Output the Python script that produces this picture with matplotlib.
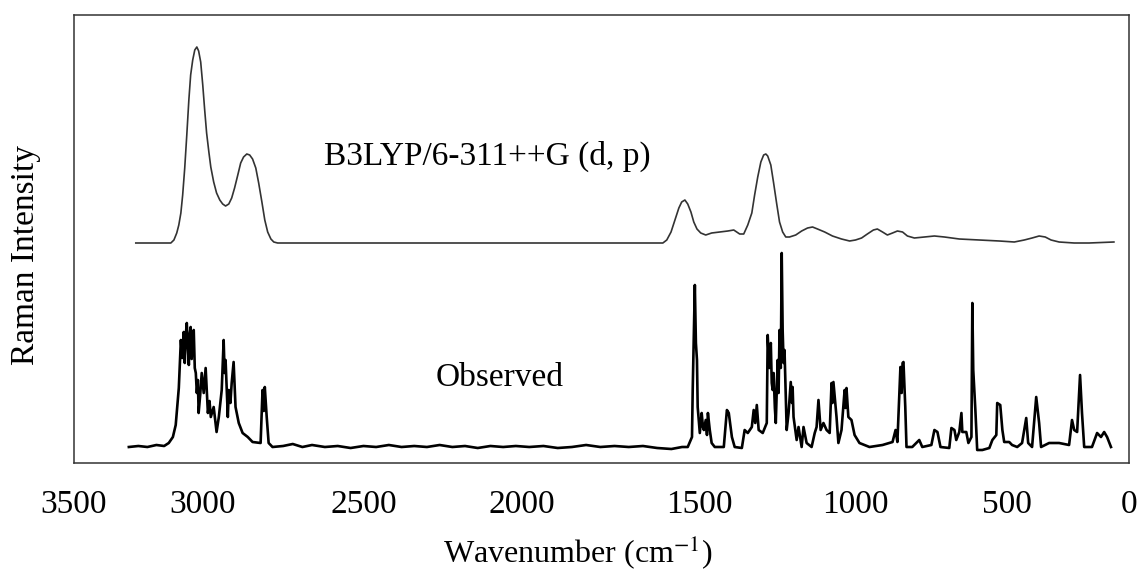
import numpy as np
import matplotlib
matplotlib.use("Agg")
import matplotlib.pyplot as plt

# tick label positions in the original figure are not evenly spaced,
# so the x axis uses a piecewise linear scale through these breaks
break_wn = np.array([0, 500, 1000, 1500, 2000, 2500, 3000, 3500])
break_pos = -np.array([1130, 1008, 856, 700, 522, 363, 202, 73], dtype=float)

# calculated spectrum (B3LYP/6-311++G(d,p))
calc_wn = [3260, 3124, 3112, 3101, 3093, 3085, 3078, 3070, 3062, 3054, 3047, 3039,
           3031, 3023, 3016, 3008, 3000, 2994, 2988, 2981, 2975, 2966, 2957, 2947,
           2938, 2929, 2919, 2910, 2901, 2891, 2882, 2873, 2863, 2854, 2845, 2835,
           2826, 2816, 2807, 2798, 2788, 2779, 2767,
           1604, 1593, 1581, 1570, 1559, 1551, 1542, 1534, 1525, 1517, 1508, 1497,
           1481, 1462, 1436, 1410, 1391, 1372, 1359, 1346, 1333, 1324, 1314, 1304,
           1295, 1288, 1282, 1272, 1263, 1253, 1244, 1234, 1224, 1212, 1192, 1173,
           1154, 1138, 1122, 1099, 1074, 1045, 1019, 1000, 980, 961, 941, 928,
           911, 895, 878, 862, 845, 829, 806, 773, 740, 707, 658, 592,
           526, 471, 430, 398, 369, 344, 320, 287, 225, 164, 62]
calc_int = [220, 220, 223, 230, 238, 250, 268, 295, 328, 363, 388, 403,
            413, 416, 412, 401, 378, 353, 330, 311, 296, 281, 270, 263,
            259, 257, 259, 265, 275, 288, 300, 306, 309, 308, 304, 295,
            280, 261, 243, 231, 224, 221, 220,
            220, 223, 231, 243, 255, 261, 263, 259, 251, 241, 234, 230,
            228, 230, 231, 232, 233, 229, 229, 238, 250, 268, 286, 301,
            308, 309, 307, 298, 280, 259, 241, 231, 226, 226, 228, 232,
            235, 236, 234, 231, 227, 224, 222, 223, 225, 229, 233, 234,
            231, 228, 230, 232, 231, 227, 225, 226, 227, 226, 224, 223,
            222, 221, 223, 225, 227, 226, 223, 221, 220, 220, 221]

# observed spectrum
obs_wn = [3287, 3250, 3215, 3180, 3150, 3132, 3116, 3105, 3093, 3085, 3080, 3074,
          3070, 3066, 3062, 3058, 3054, 3050, 3047, 3043, 3039, 3035, 3031, 3027,
          3023, 3019, 3016, 3010, 3004, 2997, 2991, 2984, 2979, 2975, 2966, 2957,
          2950, 2941, 2935, 2932, 2929, 2925, 2922, 2919, 2914, 2910, 2904, 2898,
          2888, 2876, 2860, 2845, 2820, 2814, 2810, 2807, 2801, 2795, 2783,
          2750, 2720, 2690, 2660, 2620, 2580, 2540, 2500, 2460, 2420, 2380, 2340,
          2300, 2260, 2220, 2180, 2140, 2100, 2060, 2020, 1980, 1940, 1900, 1860,
          1820, 1780, 1740, 1700, 1660, 1620, 1580, 1550, 1534,
          1522, 1520, 1514, 1511, 1508, 1506, 1500, 1494, 1490, 1487, 1481, 1477,
          1474, 1468, 1462, 1452, 1423, 1413, 1407, 1397, 1388, 1365, 1356, 1346,
          1333, 1327, 1322, 1317, 1311, 1298, 1285, 1282, 1277, 1272, 1269, 1266,
          1263, 1259, 1256, 1250, 1247, 1244, 1240, 1237, 1234, 1231, 1228, 1221,
          1215, 1208, 1204, 1202, 1199, 1189, 1183, 1173, 1167, 1157, 1141, 1131,
          1125, 1119, 1112, 1103, 1093, 1083, 1077, 1074, 1071, 1061, 1055, 1045,
          1035, 1032, 1029, 1023, 1013, 1003, 987, 954, 911, 878, 868, 862,
          852, 848, 845, 842, 836, 832, 813, 790, 780, 750, 740, 730,
          720, 691, 684, 674, 668, 658, 651, 648, 635, 628, 618, 615,
          612, 605, 599, 582, 559, 549, 536, 533, 523, 516, 510, 492,
          480, 459, 439, 422, 414, 398, 381, 369, 361, 328, 287, 246,
          234, 225, 213, 201, 193, 184, 152, 131, 115, 102, 90, 74]
obs_int = [16, 17, 16, 18, 17, 20, 26, 38, 75, 123, 105, 131,
           100, 128, 140, 116, 98, 130, 136, 104, 127, 133, 95, 90,
           70, 83, 50, 68, 90, 70, 95, 50, 62, 46, 56, 31,
           46, 73, 123, 90, 103, 70, 46, 73, 60, 80, 101, 56,
           40, 30, 26, 21, 20, 73, 52, 76, 46, 20, 16,
           17, 19, 16, 18, 16, 17, 15, 17, 16, 18, 16, 17,
           16, 18, 16, 17, 15, 17, 16, 17, 16, 17, 15, 16,
           18, 16, 17, 16, 17, 15, 14, 16, 16,
           26, 73, 178, 120, 103, 56, 30, 50, 36, 33, 43, 28,
           50, 33, 20, 16, 16, 53, 50, 26, 16, 15, 33, 30,
           36, 53, 40, 58, 33, 30, 40, 128, 95, 120, 80, 73,
           90, 55, 40, 103, 70, 133, 95, 210, 133, 100, 113, 33,
           50, 81, 60, 76, 46, 23, 36, 16, 36, 20, 16, 30,
           36, 63, 33, 40, 33, 30, 80, 60, 81, 46, 20, 33,
           73, 55, 75, 46, 43, 28, 20, 16, 18, 21, 33, 21,
           96, 70, 100, 101, 56, 16, 16, 23, 16, 18, 33, 31,
           16, 15, 35, 33, 23, 31, 50, 31, 31, 20, 26, 160,
           93, 53, 13, 13, 15, 23, 28, 60, 58, 33, 21, 21,
           18, 16, 20, 45, 20, 16, 66, 40, 16, 20, 20, 18,
           43, 33, 31, 88, 50, 16, 16, 30, 26, 31, 26, 16]

tick_wn = [3500, 3000, 2500, 2000, 1500, 1000, 500, 0]


def forward(w):
    return np.interp(w, break_wn, break_pos)


def inverse(v):
    return np.interp(v, break_pos, break_wn)


plt.rcParams['font.family'] = ['Liberation Serif', 'DejaVu Serif']
plt.rcParams['mathtext.fontset'] = 'stix'

fig = plt.figure(figsize=(11.37, 5.73), dpi=100)
W, H = 1137, 573
ax = fig.add_axes([74 / W, (H - 463) / H, (1129 - 74) / W, (463 - 15) / H])

ax.plot(calc_wn, calc_int, color='#333333', lw=1.2, solid_joinstyle='round')
ax.plot(obs_wn, obs_int, color='black', lw=1.9)

ax.set_xscale('function', functions=(forward, inverse))
ax.set_xlim(3500, 0)
ax.set_ylim(0, 448)
ax.set_xticks(tick_wn)
ax.set_xticklabels([str(t) for t in tick_wn])
ax.set_yticks([])
ax.tick_params(axis='x', length=0, pad=19, labelsize=24)

for sp in ax.spines.values():
    sp.set_color('#333333')
    sp.set_linewidth(1.1)

ax.set_xlabel('Wavenumber (cm$^{\\mathrm{-1}}$)', fontsize=23)
ax.xaxis.set_label_coords(0.478, -0.156)
ax.set_ylabel('Raman Intensity', fontsize=24)
ax.yaxis.set_label_coords(-0.031, 0.464)

ax.text(0.392, 0.685, 'B3LYP/6-311++G (d, p)', transform=ax.transAxes,
        fontsize=24, ha='center', va='center')
ax.text(0.403, 0.19, 'Observed', transform=ax.transAxes,
        fontsize=24, ha='center', va='center')

fig.savefig('out.png', dpi=100)
